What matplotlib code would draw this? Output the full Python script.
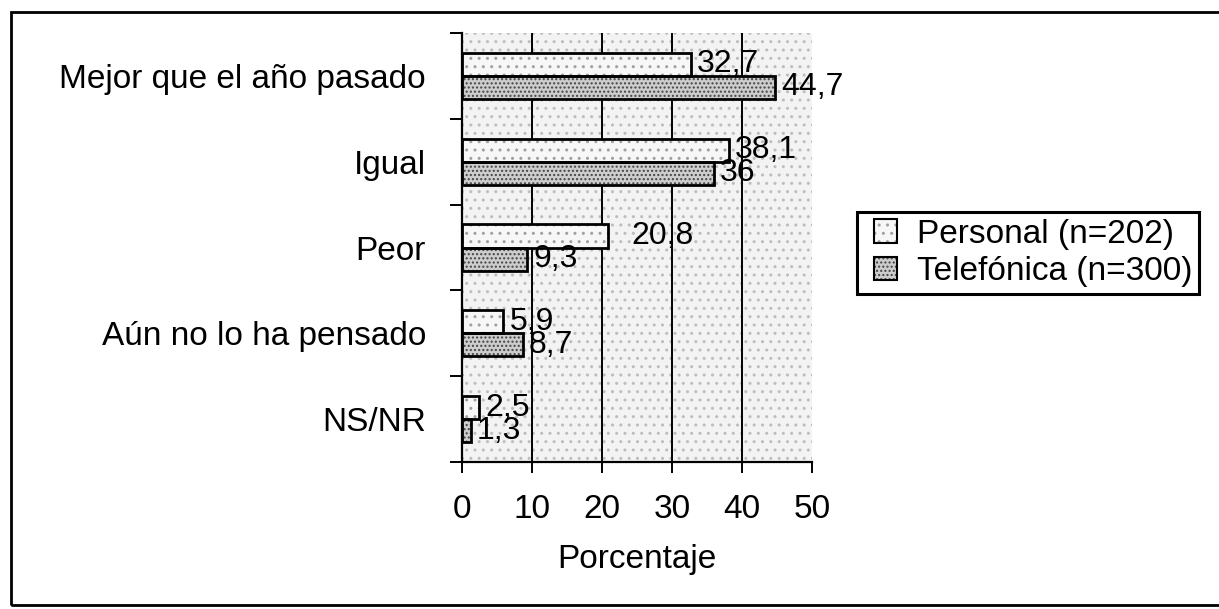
import numpy as np
import matplotlib
matplotlib.use("Agg")
import matplotlib.pyplot as plt
from matplotlib.patches import Patch, Rectangle
from matplotlib.ticker import FixedLocator
from matplotlib.legend_handler import HandlerBase

plt.rcParams["font.family"] = ["Liberation Sans", "DejaVu Sans"]
plt.rcParams["hatch.linewidth"] = 1.0

categories = ["Mejor que el año pasado", "Igual", "Peor", "Aún no lo ha pensado", "NS/NR"]
personal = [32.7, 38.1, 20.8, 5.9, 2.5]
telefonica = [44.7, 36, 9.3, 8.7, 1.3]
series_names = ["Personal (n=202)", "Telefónica (n=300)"]
xticks = [0, 10, 20, 30, 40, 50]

FS = 24


class HatchBox(HandlerBase):
    """hatched square with a black outline drawn on top"""

    def create_artists(self, legend, orig_handle, xdescent, ydescent, width, height, fontsize, trans):
        side = min(width, height)
        x0 = -xdescent + (width - side) / 2
        y0 = -ydescent + (height - side) / 2
        fill = Rectangle((x0, y0), side, side, facecolor=orig_handle.get_facecolor(),
                         edgecolor=orig_handle.get_edgecolor(), hatch=orig_handle.get_hatch(),
                         linewidth=0, transform=trans)
        edge = Rectangle((x0, y0), side, side, fill=False, edgecolor="black", linewidth=1.5, transform=trans)
        return [fill, edge]


W, H = 1219, 609
fg = plt.figure(figsize=(W / 100, H / 100), dpi=100)
ax = fg.add_axes([462 / W, 1 - 462 / H, 350 / W, 429 / H])

# stippled plot background
ax.add_patch(Rectangle((0, 0), 1, 1, transform=ax.transAxes, facecolor="#f3f3f3",
                       edgecolor="#bdbdbd", hatch="..", linewidth=0, zorder=0))
ax.patch.set_visible(False)

y = np.arange(len(categories))
h = 0.27
styles = [
    dict(facecolor="#f7f7f7", hatch_color="#a0a0a0", hatch=".."),
    dict(facecolor="#cdcdcd", hatch_color="#444444", hatch="...."),
]
handles = []
for k, (vals, st, off) in enumerate(zip([personal, telefonica], styles, [-0.135, 0.135])):
    ax.barh(y + off, vals, height=h, facecolor=st["facecolor"], edgecolor=st["hatch_color"],
            hatch=st["hatch"], linewidth=0, zorder=3)
    ax.barh(y + off, vals, height=h, facecolor="none", edgecolor="black", linewidth=2, zorder=4)
    handles.append(Patch(facecolor=st["facecolor"], edgecolor=st["hatch_color"], hatch=st["hatch"]))
    for i, v in enumerate(vals):
        dx = 6
        if k == 0 and i == 2:
            dx = 24  # label sits away from the bar in the original
        ax.annotate(f"{v:g}".replace(".", ","), (v, y[i] + off), xytext=(dx * 0.72, 0),
                    textcoords="offset points", va="center", ha="left", fontsize=FS - 1, zorder=5)

ax.set_xlim(0, 50)
ax.set_ylim(len(categories) - 0.5, -0.5)
for x in [10, 20, 30, 40]:
    ax.axvline(x, color="black", linewidth=1.4, zorder=2)

ax.set_xticks(xticks)
ax.tick_params(axis="x", direction="out", length=8, width=1.4, pad=15, labelsize=FS)
ax.set_yticks(y)
ax.set_yticklabels(categories)
ax.tick_params(axis="y", which="major", length=0, pad=26, labelsize=FS)
ax.yaxis.set_minor_locator(FixedLocator(np.arange(-0.5, len(categories), 1.0)))
ax.tick_params(axis="y", which="minor", direction="out", length=9, width=1.4)
ax.set_xlabel("Porcentaje", fontsize=FS, labelpad=14)

for s in ["top", "right"]:
    ax.spines[s].set_visible(False)
for s in ["left", "bottom"]:
    ax.spines[s].set_linewidth(1.6)

leg = fg.legend(handles, series_names, loc="upper left", bbox_to_anchor=(857 / W, 1 - 212 / H),
                fontsize=FS, frameon=True, fancybox=False, edgecolor="black", framealpha=1,
                handlelength=1.3, handleheight=0.7, handletextpad=0.3, borderpad=0.2,
                labelspacing=0.2, borderaxespad=0,
                handler_map={Patch: HatchBox()})
leg.get_frame().set_linewidth(2.2)

# outer chart border
fg.patches.append(Rectangle((11 / W, 1 - 605 / H), 1.1, 593 / H, transform=fg.transFigure,
                            fill=False, edgecolor="black", linewidth=2))

fg.savefig("out.png", dpi=100)
